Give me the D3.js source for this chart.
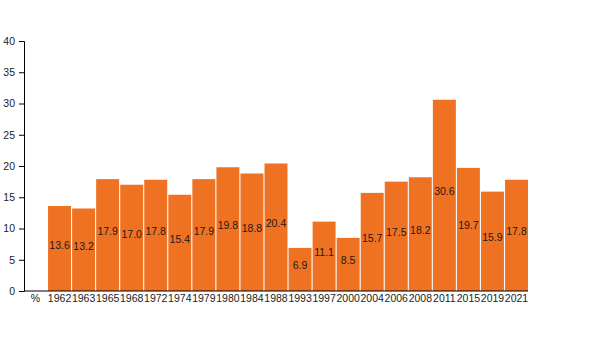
<!DOCTYPE html>
<html>
<head>
<meta charset="utf-8">
<script src="https://cdn.jsdelivr.net/npm/d3@7"></script>
<style>
  body { margin: 0; background: #fff; }
  svg { font-family: "Liberation Sans", Arial, sans-serif; }
</style>
</head>
<body>
<div id="chart"></div>
<script>
/* Bar chart, share (%) by year */

const years = ["1962", "1963", "1965", "1968", "1972", "1974", "1979", "1980", "1984", "1988",
               "1993", "1997", "2000", "2004", "2006", "2008", "2011", "2015", "2019", "2021"];
const values = [13.6, 13.2, 17.9, 17.0, 17.8, 15.4, 17.9, 19.8, 18.8, 20.4,
                6.9, 11.1, 8.5, 15.7, 17.5, 18.2, 30.6, 19.7, 15.9, 17.8];
const unitLabel = "%";
const yTicks = [0, 5, 10, 15, 20, 25, 30, 35, 40];

const width = 600,
      height = 350,
      margin = ({ top: 41, right: 72, bottom: 59, left: 24 });

const data = years.map((y, i) => ({ year: y, value: values[i] }));

let svg = d3.select("#chart")
    .append("svg")
    .attr("width", width)
    .attr("height", height);

let x = d3.scaleBand()
    .domain([unitLabel, ...years]) // unit label sits in the first slot
    .range([margin.left, width - margin.right])
    .paddingInner(0.045)
    .paddingOuter(0);

let y = d3.scaleLinear()
    .domain([0, 40])
    .range([height - margin.bottom, margin.top]);

// bars
svg.append("g")
    .selectAll("rect")
    .data(data)
    .join("rect")
    .attr("fill", "#ef7223")
    .attr("x", d => x(d.year))
    .attr("width", x.bandwidth())
    .attr("y", d => y(d.value))
    .attr("height", d => y(0) - y(d.value));

// value labels in the middle of each bar
svg.append("g")
    .selectAll("text")
    .data(data)
    .join("text")
    .attr("x", d => x(d.year) + x.bandwidth() / 2)
    .attr("y", d => (y(d.value) + y(0)) / 2)
    .attr("text-anchor", "middle")
    .style("font-size", "10.5px")
    .style("fill", "#1a1a1a")
    .text(d => d.value.toFixed(1));

// y axis
let yAxis = svg.append("g")
    .attr("transform", `translate(${margin.left},0)`)
    .call(d3.axisLeft(y).tickValues(yTicks).tickSize(5).tickPadding(4));
yAxis.selectAll("text").style("font-size", "10.5px").style("fill", "#222");
yAxis.selectAll("line, path").attr("stroke", "#000");

// x axis
let xAxis = svg.append("g")
    .attr("transform", `translate(0,${y(0)})`)
    .call(d3.axisBottom(x).tickSize(0).tickPadding(4));
xAxis.select(".domain").attr("d", `M${margin.left},0H${width - margin.right}`).attr("stroke", "#000");
xAxis.selectAll("text").style("font-size", "10.5px").style("fill", "#222");
</script>
</body>
</html>
